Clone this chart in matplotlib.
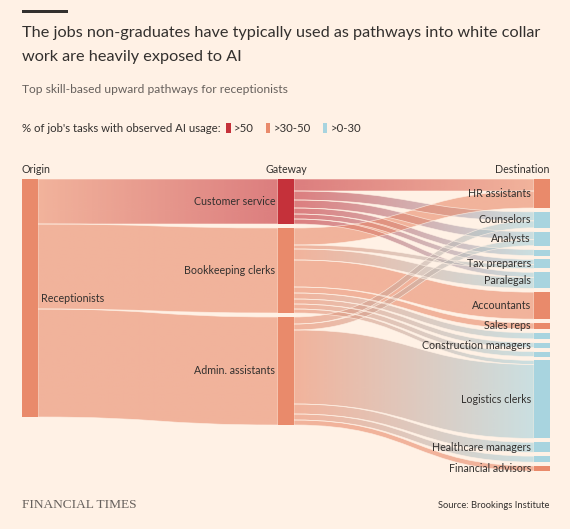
import numpy as np
import matplotlib
matplotlib.use("Agg")
import matplotlib.pyplot as plt
from matplotlib.path import Path
from matplotlib.patches import PathPatch, Rectangle
from matplotlib.colors import to_rgba

# ---------------- data ----------------
origin_name = "Receptionists"
origin_band = ">30-50"
gateways = ["Customer service", "Bookkeeping clerks", "Admin. assistants"]
gateway_band = [">50", ">30-50", ">30-50"]
destinations = ["HR assistants", "Counselors", "Analysts", "", "Tax preparers",
                "Paralegals", "Accountants", "Sales reps", "", "Construction managers",
                "", "Logistics clerks", "Healthcare managers", "", "Financial advisors"]
dest_band = [">30-50", ">0-30", ">0-30", ">0-30", ">0-30", ">0-30", ">30-50", ">30-50",
             ">0-30", ">0-30", ">0-30", ">0-30", ">0-30", ">0-30", ">30-50"]
# flows from each gateway to each destination (same order as destinations)
customer_service_flows = [12, 9, 8, 6, 5, 5, 0, 0, 0, 0, 0, 0, 0, 0, 0]
bookkeeping_flows = [17, 0, 0, 0, 4, 11, 27, 6, 6, 5, 5, 4, 0, 0, 0]
admin_flows = [0, 7, 6, 0, 0, 0, 0, 0, 0, 0, 0, 74, 10, 6, 5]
legend_bands = [">50", ">30-50", ">0-30"]
band_colors = ["#C5313A", "#E98A6B", "#A8D4DF"]

title_lines = ["The jobs non-graduates have typically used as pathways into white collar",
               "work are heavily exposed to AI"]
subtitle = "Top skill-based upward pathways for receptionists"
legend_title = "% of job's tasks with observed AI usage:"
column_headers = ["Origin", "Gateway", "Destination"]
source_text = "Source: Brookings Institute"

# ---------------- style ----------------
BG = "#FFF1E5"
INK = "#33302E"
GREY = "#66605C"
FONT = ["Lato", "DejaVu Sans"]
FLOW_ALPHA = 0.6
color_of = dict(zip(legend_bands, band_colors))

W, H = 570, 529
fig = plt.figure(figsize=(W / 100, H / 100), dpi=100, facecolor=BG)
ax = fig.add_axes([0, 0, 1, 1])
ax.set_facecolor(BG)
ax.set_xlim(0, W)
ax.set_ylim(H, 0)
ax.axis("off")

renderer = fig.canvas.get_renderer()


def fit(t, target_w):
    w = t.get_window_extent(renderer).width
    t.set_fontsize(t.get_fontsize() * target_w / w)
    return t


def width_of(t):
    return t.get_window_extent(renderer).width


# ---------------- layout ----------------
flows = np.array([customer_service_flows, bookkeeping_flows, admin_flows], float)
gw_vals = flows.sum(axis=1)
dst_vals = flows.sum(axis=0)
total = gw_vals.sum()

TOP = 179
ORIGIN_BOTTOM = 417
DEST_BOTTOM = 471
NODE_W = 16
X_ORIGIN, X_GATE, X_DEST = 22, 278, 534
ky = (ORIGIN_BOTTOM - TOP) / total
gap_gw = 4
gap_dst = (DEST_BOTTOM - TOP - total * ky) / (len(destinations) - 1)

gw_top = []
y = TOP
for v in gw_vals:
    gw_top.append(y)
    y += v * ky + gap_gw
dst_top = []
y = TOP
for v in dst_vals:
    dst_top.append(y)
    y += v * ky + gap_dst


def flow(x0, y0a, y0b, x1, y1a, y1b, c0, c1, z):
    xm = (x0 + x1) / 2
    verts = [(x0, y0a), (xm, y0a), (xm, y1a), (x1, y1a),
             (x1, y1b), (xm, y1b), (xm, y0b), (x0, y0b), (x0, y0a)]
    codes = [Path.MOVETO, Path.CURVE4, Path.CURVE4, Path.CURVE4,
             Path.LINETO, Path.CURVE4, Path.CURVE4, Path.CURVE4, Path.CLOSEPOLY]
    patch = PathPatch(Path(verts, codes), facecolor="none", edgecolor=BG,
                      lw=0.5, alpha=0.8, zorder=z + 0.5)
    ax.add_patch(patch)
    a = np.array(to_rgba(c0))
    b = np.array(to_rgba(c1))
    t = np.linspace(0, 1, 256)[:, None]
    grad = (a * (1 - t) + b * t)
    grad[:, 3] = FLOW_ALPHA
    im = ax.imshow(grad[None, :, :], extent=(x0, x1, max(y0b, y1b) + 1, min(y0a, y1a) - 1),
                   aspect="auto", interpolation="bilinear", zorder=z)
    im.set_clip_path(patch)


# origin -> gateways
zc = 1.0
y_o = TOP
for i, v in enumerate(gw_vals):
    h = v * ky
    flow(X_ORIGIN + NODE_W, y_o, y_o + h, X_GATE, gw_top[i], gw_top[i] + h,
         color_of[origin_band], color_of[gateway_band[i]], zc)
    zc += 0.01
    y_o += h

# gateways -> destinations
dst_in = list(dst_top)
for i in range(len(gateways)):
    y_s = gw_top[i]
    for j in range(len(destinations)):
        v = flows[i, j]
        if v <= 0:
            continue
        h = v * ky
        flow(X_GATE + NODE_W, y_s, y_s + h, X_DEST, dst_in[j], dst_in[j] + h,
             color_of[gateway_band[i]], color_of[dest_band[j]], zc)
        zc += 0.01
        y_s += h
        dst_in[j] += h

ax.set_xlim(0, W)
ax.set_ylim(H, 0)

# nodes
ax.add_patch(Rectangle((X_ORIGIN, TOP), NODE_W, total * ky,
                       color=color_of[origin_band], lw=0, zorder=5))
for i, v in enumerate(gw_vals):
    ax.add_patch(Rectangle((X_GATE, gw_top[i]), NODE_W, v * ky,
                           color=color_of[gateway_band[i]], lw=0, zorder=5))
for j, v in enumerate(dst_vals):
    ax.add_patch(Rectangle((X_DEST, dst_top[j]), NODE_W, v * ky,
                           color=color_of[dest_band[j]], lw=0, zorder=5))

# node labels
lab_kw = dict(family=FONT, color=INK, va="center", zorder=6)
t = ax.text(X_ORIGIN + NODE_W + 3, TOP + total * ky / 2, origin_name, ha="left",
            fontsize=9, **lab_kw)
fit(t, 63)
label_fs = t.get_fontsize()
for i, name in enumerate(gateways):
    ax.text(X_GATE - 3, gw_top[i] + gw_vals[i] * ky / 2, name, ha="right",
            fontsize=label_fs, **lab_kw)
for j, name in enumerate(destinations):
    if name:
        ax.text(X_DEST - 3, dst_top[j] + dst_vals[j] * ky / 2, name, ha="right",
                fontsize=label_fs, **lab_kw)

# column headers
hk = dict(family=FONT, color=INK, va="baseline", fontsize=label_fs)
ax.text(X_ORIGIN, 173, column_headers[0], ha="left", **hk)
ax.text(X_GATE + NODE_W / 2, 173, column_headers[1], ha="center", **hk)
ax.text(X_DEST + NODE_W, 173, column_headers[2], ha="right", **hk)

# title block
ax.add_patch(Rectangle((22, 10), 46, 3, color=INK, lw=0))
t1 = ax.text(22, 36.5, title_lines[0], family=FONT, color=INK, va="baseline",
             ha="left", fontsize=12)
fit(t1, 518)
ax.text(22, 61, title_lines[1], family=FONT, color=INK, va="baseline", ha="left",
        fontsize=t1.get_fontsize())
ts = ax.text(22, 93, subtitle, family=FONT, color=GREY, va="baseline", ha="left",
             fontsize=9)
fit(ts, 265)

# legend
tl = ax.text(22, 131.5, legend_title, family=FONT, color=INK, va="baseline",
             ha="left", fontsize=8.5)
fit(tl, 198)
lfs = tl.get_fontsize()
x = 22 + width_of(tl) + 5.5
for band, col in zip(legend_bands, band_colors):
    ax.add_patch(Rectangle((x, 122.7), 4.4, 10, color=col, lw=0))
    x += 4.4 + 3
    tt = ax.text(x, 131.5, band, family=FONT, color=INK, va="baseline", ha="left",
                 fontsize=lfs)
    x += width_of(tt) + 12.5

# footer
tf = ax.text(22, 508, "FINANCIAL TIMES", family=["Liberation Serif", "DejaVu Serif"],
             color=GREY, va="baseline", ha="left", fontsize=10)
fit(tf, 115)
tsrc = ax.text(549, 508.5, source_text, family=FONT, color=INK, va="baseline",
               ha="right", fontsize=7.5)
fit(tsrc, 111)

fig.savefig("out.png", dpi=100, facecolor=BG)
